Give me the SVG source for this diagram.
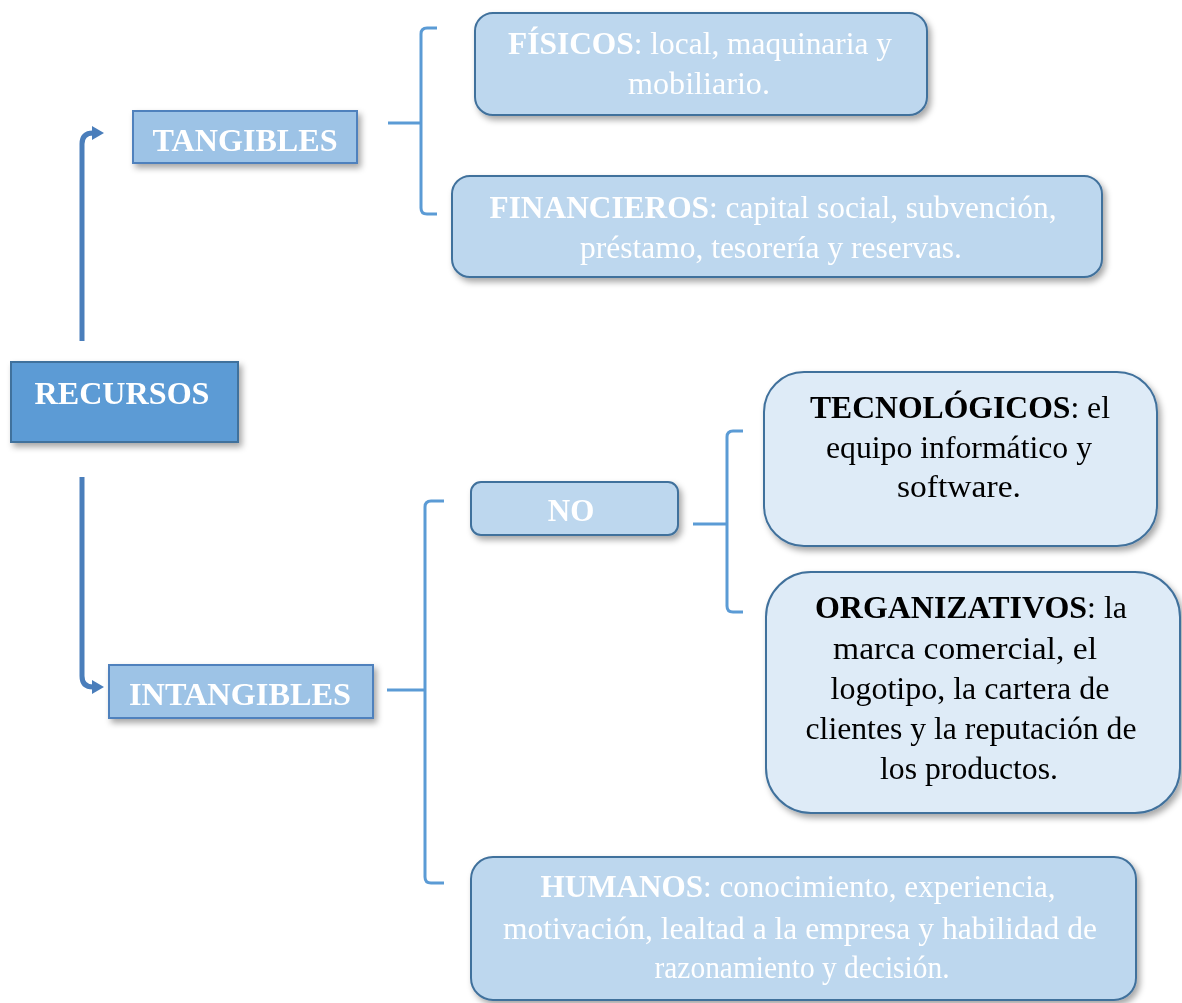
<svg xmlns="http://www.w3.org/2000/svg" width="1182" height="1003" viewBox="0 0 1182 1003">
  <style>
    text { font-family: "Liberation Serif", "Times New Roman", serif; text-anchor: middle; }
    .head { font-size: 31px; font-weight: bold; fill: #ffffff; }
    .lt { font-size: 31px; fill: #ffffff; }
    .dk { font-size: 31px; fill: #000000; }
    .b { font-weight: bold; }
    .main { fill: #5b9bd5; stroke: #41719c; stroke-width: 2; }
    .mid { fill: #9dc3e6; stroke: #4f81bd; stroke-width: 2; }
    .soft { fill: #bdd7ee; stroke: #41719c; stroke-width: 2; }
    .pale { fill: #deebf7; stroke: #41719c; stroke-width: 2; }
    .arrow { fill: none; stroke: #4a7ebb; stroke-width: 5; stroke-linecap: butt; }
    .brace { fill: none; stroke: #5b9bd5; stroke-width: 3; }
  </style>
  <defs>
    <filter id="shadow" x="-10%" y="-20%" width="125%" height="150%">
      <feDropShadow dx="3" dy="4" stdDeviation="3" flood-color="#000000" flood-opacity="0.35"/>
    </filter>
    <marker id="head" markerWidth="2.4" markerHeight="2.8" refX="0.4" refY="1.4" orient="auto" markerUnits="strokeWidth">
      <path d="M0,0 L2.4,1.4 L0,2.8 Z" fill="#4a7ebb"/>
    </marker>
  </defs>
  <rect width="1182" height="1003" fill="#ffffff"/>

  <!-- connectors -->
  <g id="connectors">
    <path class="arrow" d="M82,341 L82,144 Q82,133 93,133 L94,133" marker-end="url(#head)"/>
    <path class="arrow" d="M82,477 L82,676 Q82,687 93,687 L94,687" marker-end="url(#head)"/>
    <!-- brace to FÍSICOS / FINANCIEROS -->
    <path class="brace" d="M388,123 L421,123"/>
    <path class="brace" d="M437,28 L427,28 Q421,28 421,34 L421,208 Q421,214 427,214 L437,214"/>
    <!-- brace to NO / HUMANOS -->
    <path class="brace" d="M387,690 L425,690"/>
    <path class="brace" d="M444,501 L431,501 Q425,501 425,507 L425,877 Q425,883 431,883 L444,883"/>
    <!-- brace to TECNOLÓGICOS / ORGANIZATIVOS -->
    <path class="brace" d="M693,524 L727,524"/>
    <path class="brace" d="M743,431 L733,431 Q727,431 727,437 L727,606 Q727,612 733,612 L743,612"/>
  </g>

  <!-- root -->
  <g id="recursos" filter="url(#shadow)">
    <rect class="main" x="11" y="362" width="227" height="80"/>
    <text class="head" x="122" y="404" textLength="175" lengthAdjust="spacingAndGlyphs">RECURSOS</text>
  </g>

  <g id="tangibles" filter="url(#shadow)">
    <rect class="mid" x="133" y="111" width="224" height="52"/>
    <text class="head" x="245" y="151" textLength="185" lengthAdjust="spacingAndGlyphs">TANGIBLES</text>
  </g>

  <g id="intangibles" filter="url(#shadow)">
    <rect class="mid" x="109" y="665" width="264" height="53"/>
    <text class="head" x="240" y="705" textLength="222" lengthAdjust="spacingAndGlyphs">INTANGIBLES</text>
  </g>

  <g id="fisicos" filter="url(#shadow)">
    <rect class="soft" x="475" y="13" width="452" height="102" rx="18"/>
    <text class="lt" x="700" y="54" textLength="384" lengthAdjust="spacingAndGlyphs"><tspan class="b">FÍSICOS</tspan>: local, maquinaria y</text>
    <text class="lt" x="699" y="94" textLength="142" lengthAdjust="spacingAndGlyphs">mobiliario.</text>
  </g>

  <g id="financieros" filter="url(#shadow)">
    <rect class="soft" x="452" y="176" width="650" height="101" rx="18"/>
    <text class="lt" x="773" y="218" textLength="567" lengthAdjust="spacingAndGlyphs"><tspan class="b">FINANCIEROS</tspan>: capital social, subvención,</text>
    <text class="lt" x="771" y="258" textLength="382" lengthAdjust="spacingAndGlyphs">préstamo, tesorería y reservas.</text>
  </g>

  <g id="no" filter="url(#shadow)">
    <rect class="soft" x="471" y="482" width="207" height="53" rx="10"/>
    <text class="head" x="571" y="521">NO</text>
  </g>

  <g id="tecnologicos" filter="url(#shadow)">
    <rect class="pale" x="764" y="372" width="393" height="174" rx="40"/>
    <text class="dk" x="960" y="418" textLength="300" lengthAdjust="spacingAndGlyphs"><tspan class="b">TECNOLÓGICOS</tspan>: el</text>
    <text class="dk" x="959" y="458" textLength="266" lengthAdjust="spacingAndGlyphs">equipo informático y</text>
    <text class="dk" x="959" y="497" textLength="124" lengthAdjust="spacingAndGlyphs">software.</text>
  </g>

  <g id="organizativos" filter="url(#shadow)">
    <rect class="pale" x="766" y="572" width="414" height="241" rx="45"/>
    <text class="dk" x="971" y="618" textLength="312" lengthAdjust="spacingAndGlyphs"><tspan class="b">ORGANIZATIVOS</tspan>: la</text>
    <text class="dk" x="965" y="659" textLength="264" lengthAdjust="spacingAndGlyphs">marca comercial, el</text>
    <text class="dk" x="970" y="699" textLength="279" lengthAdjust="spacingAndGlyphs">logotipo, la cartera de</text>
    <text class="dk" x="971" y="739" textLength="331" lengthAdjust="spacingAndGlyphs">clientes y la reputación de</text>
    <text class="dk" x="969" y="779" textLength="178" lengthAdjust="spacingAndGlyphs">los productos.</text>
  </g>

  <g id="humanos" filter="url(#shadow)">
    <rect class="soft" x="471" y="857" width="665" height="143" rx="22"/>
    <text class="lt" x="798" y="897" textLength="515" lengthAdjust="spacingAndGlyphs"><tspan class="b">HUMANOS</tspan>: conocimiento, experiencia,</text>
    <text class="lt" x="800" y="939" textLength="594" lengthAdjust="spacingAndGlyphs">motivación, lealtad a la empresa y habilidad de</text>
    <text class="lt" x="802" y="978" textLength="295" lengthAdjust="spacingAndGlyphs">razonamiento y decisión.</text>
  </g>
</svg>
